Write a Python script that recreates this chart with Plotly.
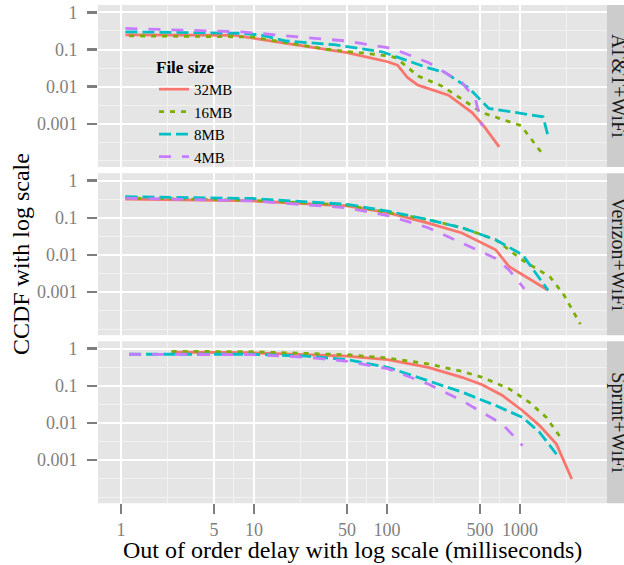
import plotly.graph_objects as go

# ---------------- data ----------------
sizes = ["32MB", "16MB", "8MB", "4MB"]
carriers = ["AT&T+WiFi", "Verizon+WiFi", "Sprint+WiFi"]

x_ticks = [1, 5, 10, 50, 100, 500, 1000]
x_tick_labels = ["1", "5", "10", "50", "100", "500", "1000"]
y_ticks = [0.001, 0.01, 0.1, 1]
y_tick_labels = ["0.001", "0.01", "0.1", "1"]

# AT&T + WiFi
att_32_x = [1.08, 7.2, 19.6, 50, 101, 120, 143, 171, 290, 436, 535, 697]
att_32_y = [0.25, 0.24, 0.138, 0.083, 0.047, 0.038, 0.0174, 0.011, 0.0059, 0.002, 0.00087, 0.00024]
att_16_x = [1.15, 9.7, 14.6, 35.2, 101, 117, 171, 257, 366, 520, 1019, 1489]
att_16_y = [0.234, 0.219, 0.17, 0.102, 0.068, 0.06, 0.0195, 0.0105, 0.0046, 0.002, 0.00089, 0.000148]
att_8_x = [1.08, 7.7, 11, 17.5, 40, 92, 204, 273, 411, 583, 1489, 1626]
att_8_y = [0.30, 0.275, 0.25, 0.17, 0.135, 0.087, 0.032, 0.024, 0.0093, 0.0026, 0.00155, 0.00047]
att_4_x = [1.08, 8.1, 24.8, 50, 101, 113, 204, 366, 462, 520]
att_4_y = [0.37, 0.30, 0.21, 0.17, 0.112, 0.102, 0.045, 0.0129, 0.0046, 0.00087]

# Verizon + WiFi
vz_32_x = [1.08, 9.7, 50, 101, 204, 366, 656, 830, 1626]
vz_32_y = [0.316, 0.285, 0.209, 0.138, 0.072, 0.039, 0.0138, 0.0048, 0.00112]
vz_16_x = [1.08, 9.7, 50, 101, 204, 366, 656, 1047, 1675, 2118, 2838]
vz_16_y = [0.34, 0.295, 0.219, 0.141, 0.089, 0.054, 0.0257, 0.0072, 0.0026, 0.00089, 0.000138]
vz_8_x = [1.08, 9.7, 50, 101, 204, 366, 656, 1047, 1626]
vz_8_y = [0.37, 0.33, 0.23, 0.151, 0.089, 0.054, 0.0257, 0.01, 0.00112]
vz_4_x = [1.08, 9.7, 50, 101, 204, 366, 656, 830, 1079]
vz_4_y = [0.34, 0.285, 0.186, 0.115, 0.054, 0.021, 0.0081, 0.0039, 0.00123]

# Sprint + WiFi
sp_32_x = [2.4, 9.7, 50, 101, 204, 366, 520, 738, 1047, 1403, 1879, 2449]
sp_32_y = [0.81, 0.78, 0.63, 0.51, 0.316, 0.17, 0.107, 0.055, 0.0214, 0.0085, 0.0027, 0.00031]
sp_16_x = [2.4, 9.7, 50, 101, 204, 366, 520, 830, 1178, 1578, 2056]
sp_16_y = [0.85, 0.83, 0.69, 0.56, 0.39, 0.245, 0.17, 0.083, 0.036, 0.0141, 0.0037]
sp_8_x = [1.15, 9.7, 24.8, 50, 101, 204, 366, 656, 1047, 1403, 1879]
sp_8_y = [0.71, 0.71, 0.63, 0.51, 0.316, 0.138, 0.068, 0.0295, 0.0141, 0.0056, 0.00145]
sp_4_x = [1.15, 9.7, 24.8, 50, 101, 204, 366, 520, 738, 1047]
sp_4_y = [0.71, 0.69, 0.59, 0.46, 0.29, 0.112, 0.04, 0.0195, 0.0093, 0.00245]

panels = [
    [(att_32_x, att_32_y), (att_16_x, att_16_y), (att_8_x, att_8_y), (att_4_x, att_4_y)],
    [(vz_32_x, vz_32_y), (vz_16_x, vz_16_y), (vz_8_x, vz_8_y), (vz_4_x, vz_4_y)],
    [(sp_32_x, sp_32_y), (sp_16_x, sp_16_y), (sp_8_x, sp_8_y), (sp_4_x, sp_4_y)],
]

# ---------------- style ----------------
W, H = 624, 565
FONT = "Liberation Serif, Times New Roman, serif"
colors = ["#F8766D", "#7CAE00", "#00BFC4", "#C77CFF"]
dashes = ["solid", "5px,6px", "12px,5px", "12px,11px"]
LW = 2.8
GREY50 = "#7F7F7F"


def fx(p):
    return p / W


def fy(p):
    return 1 - p / H


panel_px = [(3, 165.5), (171.8, 334.4), (340.5, 503)]
x_dom = [fx(98), fx(607)]
x_minor = [10 ** v for v in (0.349, 0.849, 1.349, 1.849, 2.349, 2.849, 3.349)]
y_minor = [10 ** v for v in (-4, -3.5, -2.5, -1.5, -0.5, 0.5)]

fig = go.Figure()
for pi, panel in enumerate(panels):
    ax = "" if pi == 0 else str(pi + 1)
    for si, (xs, ys) in enumerate(panel):
        fig.add_trace(go.Scatter(
            x=xs, y=ys, mode="lines", name=sizes[si],
            legendgroup=sizes[si], showlegend=(pi == 0),
            line=dict(color=colors[si], width=LW, dash=dashes[si]),
            xaxis="x" + ax, yaxis="y" + ax, hoverinfo="skip",
        ))

layout = dict(
    width=W, height=H,
    margin=dict(l=0, r=0, t=0, b=0),
    paper_bgcolor="white", plot_bgcolor="#E5E5E5",
    font=dict(family=FONT, color="black"),
    showlegend=True,
    legend=dict(
        x=fx(154), y=fy(49), xanchor="left", yanchor="top",
        bgcolor="rgba(0,0,0,0)", borderwidth=0,
        font=dict(family=FONT, size=15, color="black"),
        title=dict(text="<b>File size</b>", font=dict(family=FONT, size=17, color="black")),
        itemwidth=30, tracegroupgap=0,
    ),
)

annotations = []
shapes = []
for pi in range(3):
    ax = "" if pi == 0 else str(pi + 1)
    top, bot = panel_px[pi]
    bottom = pi == 2
    layout["xaxis" + ax] = dict(
        type="log", range=[-0.173, 3.654], domain=x_dom, anchor="y" + ax,
        tickmode="array", tickvals=x_ticks, ticktext=x_tick_labels,
        showticklabels=bottom, ticks="outside" if bottom else "",
        ticklen=10, tickwidth=2.5, tickcolor=GREY50, ticklabelstandoff=0,
        tickfont=dict(family=FONT, size=18, color=GREY50),
        showgrid=True, gridcolor="white", gridwidth=2,
        minor=dict(tickvals=x_minor, showgrid=True, gridcolor="#F2F2F2", gridwidth=1, ticks=""),
        zeroline=False, showline=False, fixedrange=True,
    )
    layout["yaxis" + ax] = dict(
        type="log", range=[-4.16, 0.20], domain=[fy(bot), fy(top)], anchor="x" + ax,
        tickmode="array", tickvals=y_ticks, ticktext=y_tick_labels,
        ticks="outside", ticklen=10, tickwidth=2.5, tickcolor=GREY50, ticklabelstandoff=6,
        tickfont=dict(family=FONT, size=18, color=GREY50),
        showgrid=True, gridcolor="white", gridwidth=2,
        minor=dict(tickvals=y_minor, showgrid=True, gridcolor="#F2F2F2", gridwidth=1, ticks=""),
        zeroline=False, showline=False, fixedrange=True,
    )
    shapes.append(dict(
        type="rect", xref="paper", yref="paper",
        x0=fx(607), x1=1.0, y0=fy(bot), y1=fy(top),
        fillcolor="#CCCCCC", line=dict(width=0), layer="above",
    ))
    annotations.append(dict(
        text=carriers[pi], xref="paper", yref="paper",
        x=fx(619), y=fy((top + bot) / 2), xanchor="center", yanchor="middle",
        textangle=90, showarrow=False,
        font=dict(family=FONT, size=20, color="#1A1A1A"),
    ))

annotations.append(dict(
    text="Out of order delay with log scale (milliseconds)",
    xref="paper", yref="paper", x=fx(352.5), y=fy(550),
    xanchor="center", yanchor="middle", showarrow=False,
    font=dict(family=FONT, size=24, color="black"),
))
annotations.append(dict(
    text="CCDF with log scale",
    xref="paper", yref="paper", x=fx(21), y=fy(253),
    xanchor="center", yanchor="middle", textangle=-90, showarrow=False,
    font=dict(family=FONT, size=24, color="black"),
))

layout["annotations"] = annotations
layout["shapes"] = shapes
fig.update_layout(**layout)

fig.write_html(
    "out.html",
    config={"displayModeBar": False, "staticPlot": True},
    post_script="document.body.style.margin='0';document.body.style.padding='0';",
)
